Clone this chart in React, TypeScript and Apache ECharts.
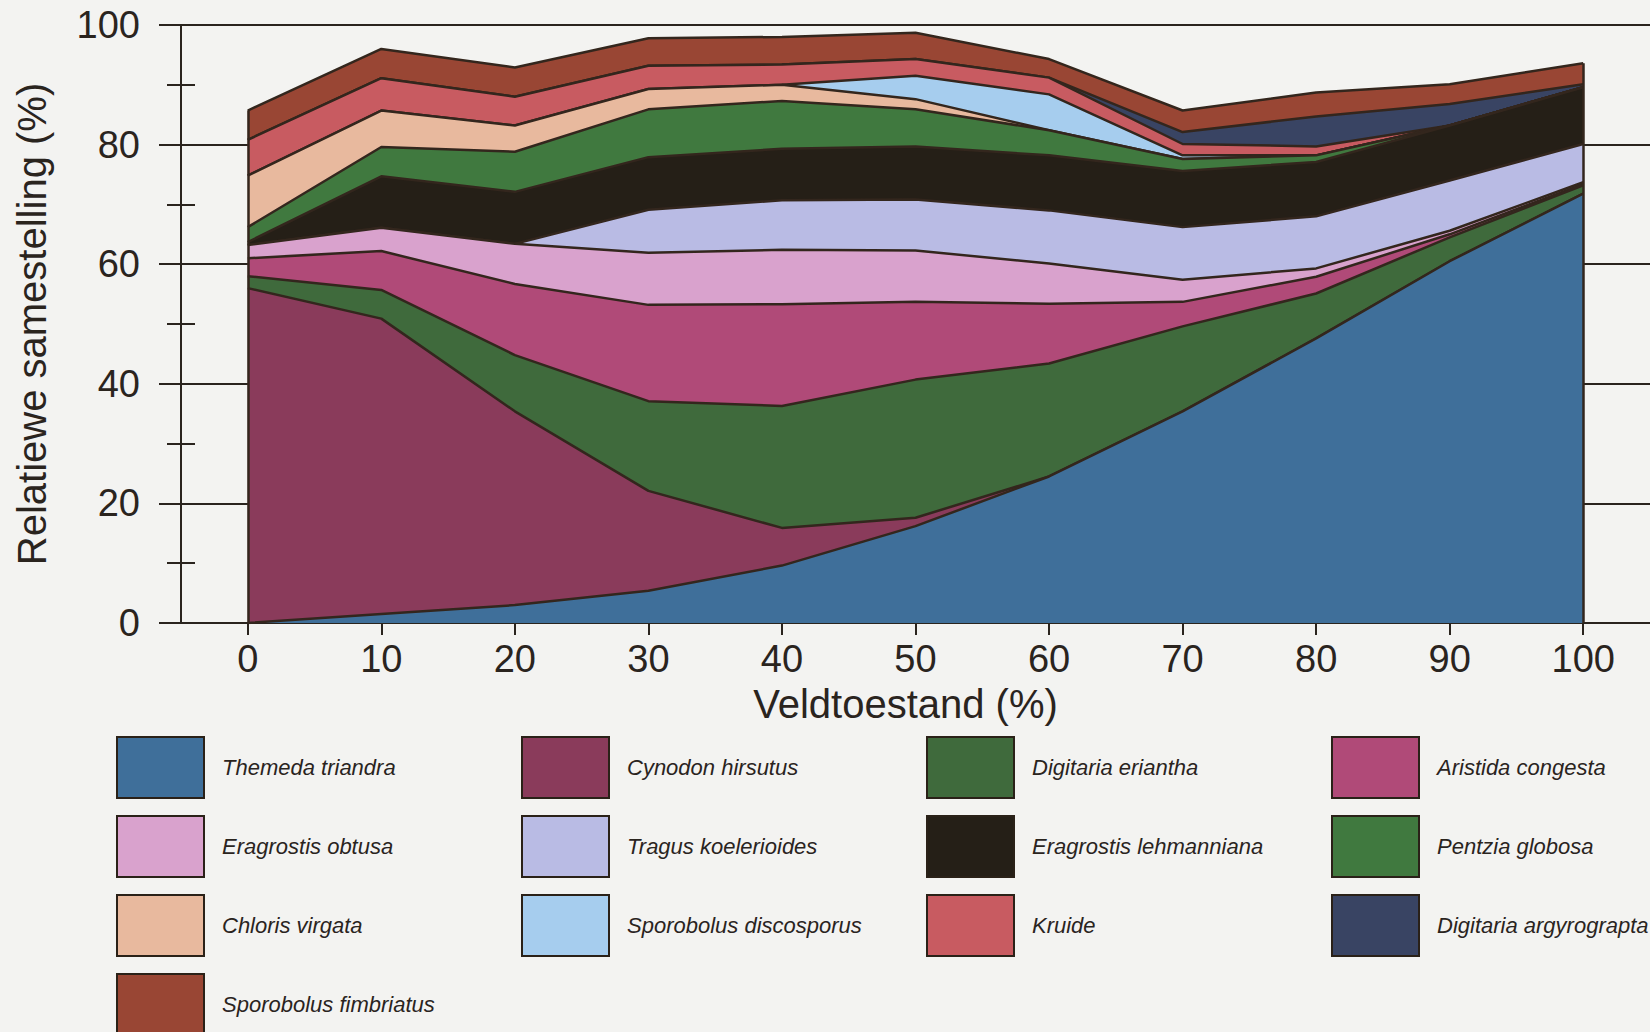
import React, { useEffect, useRef } from "react";
import * as echarts from "echarts";

// Veldtoestand (%) – x positions of the data
const xValues = [0, 10, 20, 30, 40, 50, 60, 70, 80, 90, 100];
// x-axis tick labels
const xTickValues = [0, 10, 20, 30, 40, 50, 60, 70, 80, 90, 100];

const speciesNames = [
  "Themeda triandra",
  "Cynodon hirsutus",
  "Digitaria eriantha",
  "Aristida congesta",
  "Eragrostis obtusa",
  "Tragus koelerioides",
  "Eragrostis lehmanniana",
  "Pentzia globosa",
  "Chloris virgata",
  "Sporobolus discosporus",
  "Kruide",
  "Digitaria argyrograpta",
  "Sporobolus fimbriatus",
];

const speciesColors = [
  "#3f6f9a",
  "#8a3b5b",
  "#3f6a3c",
  "#b04a78",
  "#d9a2cd",
  "#b9bbe4",
  "#251f17",
  "#40793f",
  "#e8b99e",
  "#a6cdee",
  "#c85b61",
  "#394463",
  "#994634",
];

// Relative composition (%) per species, bottom of the stack first
const themedaTriandra = [0, 1.5, 3.0, 5.4, 9.6, 16.2, 24.5, 35.4, 47.6, 60.5, 71.8];
const cynodonHirsutus = [56.0, 49.4, 32.4, 16.7, 6.3, 1.4, 0, 0, 0, 0, 0];
const digitariaEriantha = [2.0, 4.8, 9.4, 15.0, 20.4, 23.1, 18.9, 14.2, 7.5, 4.0, 1.4];
const aristidaCongesta = [3.0, 6.5, 11.9, 16.1, 17.0, 13.0, 10.0, 4.1, 2.8, 0.5, 0.2];
const eragrostisObtusa = [2.2, 3.9, 6.7, 8.7, 9.1, 8.6, 6.7, 3.7, 1.4, 0.6, 0.3];
const tragusKoelerioides = [0, 0, 0, 7.2, 8.3, 8.5, 8.9, 8.8, 8.7, 8.4, 6.4];
const eragrostisLehmanniana = [0.5, 8.6, 8.7, 8.8, 8.6, 8.9, 9.2, 9.4, 9.1, 9.2, 9.5];
const pentziaGlobosa = [2.5, 4.9, 6.7, 8.0, 8.0, 6.2, 4.2, 2.0, 1.1, 0, 0];
const chlorisVirgata = [8.6, 6.1, 4.4, 3.4, 2.7, 1.7, 0, 0, 0, 0, 0];
const sporobolusDiscosporus = [0, 0, 0, 0, 0, 3.9, 6.0, 0.6, 0, 0, 0];
const kruide = [6.0, 5.4, 4.8, 3.9, 3.4, 2.8, 2.8, 1.9, 1.5, 0, 0];
const digitariaArgyrograpta = [0, 0, 0, 0, 0, 0, 0, 2.0, 5.0, 3.6, 0.5];
const sporobolusFimbriatus = [4.9, 4.9, 4.9, 4.6, 4.6, 4.4, 3.1, 3.6, 4.0, 3.3, 3.5];

const speciesValues = [
  themedaTriandra,
  cynodonHirsutus,
  digitariaEriantha,
  aristidaCongesta,
  eragrostisObtusa,
  tragusKoelerioides,
  eragrostisLehmanniana,
  pentziaGlobosa,
  chlorisVirgata,
  sporobolusDiscosporus,
  kruide,
  digitariaArgyrograpta,
  sporobolusFimbriatus,
];

export default function App() {
  const ref = useRef<HTMLDivElement>(null);

  useEffect(() => {
    if (!ref.current) return;
    const chart = echarts.init(ref.current, null, { renderer: "svg" });
    const font = "'Liberation Sans', Arial, Helvetica, sans-serif";
    const ink = "#2a241e";
    const edge = "#33261d";
    const n = speciesNames.length;

    const total = (k: number) =>
      speciesValues.reduce((acc, vals) => acc + vals[k], 0);
    const firstIdx = 0;
    const lastIdx = xValues.length - 1;

    // data as [value, x] so the stack is done on the y (value) dimension
    const series: any[] = speciesNames.map((name, i) => ({
      name,
      type: "line",
      stack: "total",
      data: xValues.map((x, k) => [speciesValues[i][k], x]),
      encode: { x: 1, y: 0 },
      symbol: "none",
      showSymbol: false,
      silent: true,
      lineStyle: { color: edge, width: 2.5 },
      itemStyle: { color: speciesColors[i] },
      areaStyle: { color: speciesColors[i], opacity: 1 },
      emphasis: { disabled: true },
      z: 2 + (n - i),
    }));

    series[n - 1].markLine = {
      silent: true,
      symbol: ["none", "none"],
      z: 30,
      label: { show: false },
      lineStyle: { color: edge, width: 2.5, type: "solid" },
      data: [
        [
          { coord: [xValues[firstIdx], 0] },
          { coord: [xValues[firstIdx], total(firstIdx)] },
        ],
        [
          { coord: [xValues[lastIdx], 0] },
          { coord: [xValues[lastIdx], total(lastIdx)] },
        ],
      ],
    };

    // one legend per cell, laid out as 4 columns
    const legends = speciesNames.map((name, i) => ({
      orient: "vertical",
      left: 116 + (i % 4) * 405,
      top: 736 + Math.floor(i / 4) * 79,
      padding: 0,
      itemWidth: 87,
      itemHeight: 61,
      icon: "rect",
      selectedMode: false,
      itemStyle: { borderColor: "#2a2118", borderWidth: 2 },
      textStyle: {
        fontFamily: font,
        fontSize: 22,
        fontStyle: "italic",
        color: ink,
        padding: [0, 0, 4, 13],
      },
      data: [name],
    }));

    const axisLineStyle = { color: ink, width: 2 };

    chart.setOption({
      animation: false,
      backgroundColor: "#f3f3f1",
      textStyle: { fontFamily: font },
      grid: { left: 181, top: 25, width: 1472, height: 598, containLabel: false },
      legend: legends,
      xAxis: {
        type: "value",
        min: -5,
        max: 105,
        axisLine: { show: false, onZero: false },
        axisTick: {
          show: true,
          customValues: xTickValues,
          length: 12,
          lineStyle: axisLineStyle,
        },
        axisLabel: {
          customValues: xTickValues,
          fontFamily: font,
          fontSize: 38,
          color: ink,
          margin: 17,
        },
        splitLine: { show: false },
        name: "Veldtoestand (%)",
        nameLocation: "middle",
        nameGap: 61,
        nameTextStyle: {
          fontFamily: font,
          fontSize: 40,
          color: ink,
          padding: [0, 20, 0, 0],
        },
      },
      yAxis: [
        {
          type: "value",
          min: 0,
          max: 100,
          interval: 20,
          axisLine: { show: true, onZero: false, lineStyle: axisLineStyle },
          axisTick: { show: true, length: 22, lineStyle: axisLineStyle },
          minorTick: {
            show: true,
            splitNumber: 2,
            length: 14,
            lineStyle: axisLineStyle,
          },
          splitLine: { show: true, lineStyle: axisLineStyle },
          axisLabel: {
            fontFamily: font,
            fontSize: 38,
            color: ink,
            margin: 41,
          },
          name: "Relatiewe samestelling (%)",
          nameLocation: "middle",
          nameGap: 129,
          nameTextStyle: { fontFamily: font, fontSize: 40, color: ink },
        },
        {
          type: "value",
          min: 0,
          max: 100,
          interval: 20,
          position: "left",
          axisLine: { show: false, onZero: false },
          axisTick: { show: false, inside: true },
          minorTick: {
            show: true,
            splitNumber: 2,
            length: 14,
            lineStyle: axisLineStyle,
          },
          splitLine: { show: false },
          axisLabel: { show: false },
        },
      ],
      series,
    });

    return () => {
      chart.dispose();
    };
  }, []);

  return (
    <div
      ref={ref}
      style={{
        position: "absolute",
        left: 0,
        top: 0,
        width: 1650,
        height: 1032,
        background: "#f3f3f1",
      }}
    />
  );
}
